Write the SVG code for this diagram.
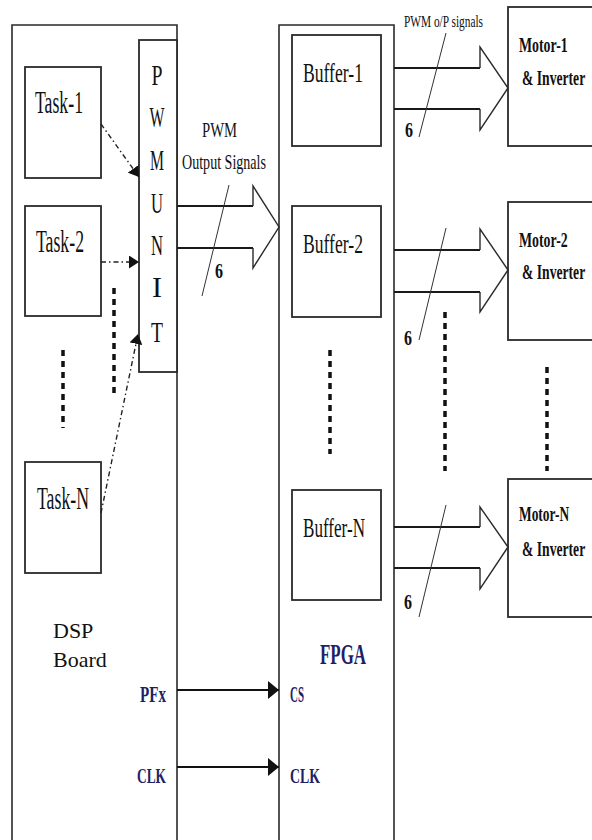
<svg xmlns="http://www.w3.org/2000/svg" width="592" height="840" viewBox="0 0 592 840">
<style>
.bg{fill:#ffffff}
.box{fill:#ffffff;stroke:#2a2a2a;stroke-width:1.8}
.frame{fill:none;stroke:#2a2a2a;stroke-width:1.6}
.barrow{fill:none;stroke:#2a2a2a;stroke-width:1.4}
.bline{fill:none;stroke:#1a1a1a;stroke-width:2}
.slash{fill:none;stroke:#333;stroke-width:1}
.dd{fill:none;stroke:#222;stroke-width:1.4;stroke-dasharray:5 3 1.5 3}
.dots{fill:none;stroke:#111;stroke-width:3.5;stroke-dasharray:6 5}
.sig{fill:none;stroke:#111;stroke-width:2}
.t{font-family:"Liberation Serif","DejaVu Serif",serif;fill:#111}
.b{font-weight:bold}
.navy{fill:#1f1f66;font-weight:bold}
</style>
<defs>
<marker id="ah" markerUnits="userSpaceOnUse" markerWidth="11" markerHeight="13" refX="10" refY="6.5" orient="auto">
<path d="M0,0 L10,6.5 L0,13 z" fill="#111"/>
</marker>
<marker id="ah2" markerUnits="userSpaceOnUse" markerWidth="12" markerHeight="18" refX="11" refY="9" orient="auto">
<path d="M0,0 L11,9 L0,18 z" fill="#111"/>
</marker>
</defs>
<rect class="bg" x="0" y="0" width="592" height="840"/>

<g id="dsp-board">
<path class="frame" d="M12,842 V25 H177 V842"/>
<text class="t" x="53" y="638" font-size="22">DSP</text>
<text class="t" x="53" y="667" font-size="22">Board</text>
<text class="t navy" x="140" y="702" font-size="24" textLength="26" lengthAdjust="spacingAndGlyphs">PFx</text>
<text class="t navy" x="137" y="783" font-size="22" textLength="29" lengthAdjust="spacingAndGlyphs">CLK</text>
</g>

<g id="fpga">
<path class="frame" d="M279,842 V25 H394 V842"/>
<text class="t navy" x="320" y="664" font-size="30" textLength="46" lengthAdjust="spacingAndGlyphs">FPGA</text>
<text class="t navy" x="290" y="702" font-size="24" textLength="14" lengthAdjust="spacingAndGlyphs">CS</text>
<text class="t navy" x="290" y="783" font-size="22" textLength="30" lengthAdjust="spacingAndGlyphs">CLK</text>
</g>

<g id="pwm-unit">
<rect class="box" x="139" y="40" width="38" height="332"/>
<g class="t" font-size="30" text-anchor="middle">
<text x="157" y="85" textLength="11" lengthAdjust="spacingAndGlyphs">P</text>
<text x="157" y="127" textLength="15" lengthAdjust="spacingAndGlyphs">W</text>
<text x="157" y="170" textLength="14" lengthAdjust="spacingAndGlyphs">M</text>
<text x="157" y="213" textLength="12" lengthAdjust="spacingAndGlyphs">U</text>
<text x="157" y="255" textLength="12" lengthAdjust="spacingAndGlyphs">N</text>
<text x="157" y="297">I</text>
<text x="157" y="342" textLength="12" lengthAdjust="spacingAndGlyphs">T</text>
</g>
</g>

<g id="task-1">
<rect class="box" x="25" y="67" width="76" height="111"/>
<text class="t" x="35" y="113" font-size="31" textLength="48" lengthAdjust="spacingAndGlyphs">Task-1</text>
</g>
<g id="task-2">
<rect class="box" x="25" y="206" width="76" height="110"/>
<text class="t" x="36" y="252" font-size="31" textLength="48" lengthAdjust="spacingAndGlyphs">Task-2</text>
</g>
<g id="task-n">
<rect class="box" x="25" y="462" width="76" height="111"/>
<text class="t" x="37" y="509" font-size="31" textLength="52" lengthAdjust="spacingAndGlyphs">Task-N</text>
</g>

<g id="buffer-1">
<rect class="box" x="292" y="35" width="89" height="111"/>
<text class="t" x="303" y="82" font-size="28" textLength="60" lengthAdjust="spacingAndGlyphs">Buffer-1</text>
</g>
<g id="buffer-2">
<rect class="box" x="292" y="206" width="89" height="111"/>
<text class="t" x="303" y="253" font-size="28" textLength="60" lengthAdjust="spacingAndGlyphs">Buffer-2</text>
</g>
<g id="buffer-n">
<rect class="box" x="292" y="490" width="89" height="110"/>
<text class="t" x="303" y="537" font-size="28" textLength="62" lengthAdjust="spacingAndGlyphs">Buffer-N</text>
</g>

<g id="motor-1">
<rect class="box" x="508" y="7" width="100" height="139"/>
<text class="t b" font-size="22" transform="translate(519,52) scale(0.63,1)">Motor-1</text>
<text class="t b" font-size="22" transform="translate(522,85) scale(0.62,1)">&amp; Inverter</text>
</g>
<g id="motor-2">
<rect class="box" x="508" y="202" width="100" height="138"/>
<text class="t b" font-size="22" transform="translate(519,247) scale(0.63,1)">Motor-2</text>
<text class="t b" font-size="22" transform="translate(522,279) scale(0.62,1)">&amp; Inverter</text>
</g>
<g id="motor-n">
<rect class="box" x="508" y="479" width="100" height="138"/>
<text class="t b" font-size="22" transform="translate(519,521) scale(0.61,1)">Motor-N</text>
<text class="t b" font-size="22" transform="translate(522,556) scale(0.62,1)">&amp; Inverter</text>
</g>

<g id="connectors">
<line class="dd" x1="101" y1="124" x2="139" y2="177" marker-end="url(#ah)"/>
<line class="dd" x1="101" y1="262" x2="139" y2="262" marker-end="url(#ah)"/>
<line class="dd" x1="101" y1="513" x2="138" y2="334" marker-end="url(#ah)"/>

<path class="bline" d="M177,206 H253 M177,248 H253"/>
<path class="barrow" d="M253,206 V186 L279,227 L253,268 V248"/>
<line class="slash" x1="229" y1="185" x2="202" y2="296"/>
<text class="t" x="202" y="137" font-size="22" textLength="35" lengthAdjust="spacingAndGlyphs">PWM</text>
<text class="t" x="182" y="169" font-size="22" textLength="84" lengthAdjust="spacingAndGlyphs">Output Signals</text>
<text class="t b" x="215" y="278" font-size="20" textLength="8" lengthAdjust="spacingAndGlyphs">6</text>

<path class="bline" d="M394,68 H480 M394,109 H480"/>
<path class="barrow" d="M480,68 V47 L508,88 L480,130 V109"/>
<line class="slash" x1="446" y1="33" x2="419" y2="137"/>
<text class="t" x="404" y="27" font-size="17" textLength="79" lengthAdjust="spacingAndGlyphs">PWM o/P signals</text>
<text class="t b" x="405" y="137" font-size="20" textLength="8" lengthAdjust="spacingAndGlyphs">6</text>

<path class="bline" d="M394,250 H480 M394,292 H480"/>
<path class="barrow" d="M480,250 V229 L508,270 L480,312 V292"/>
<line class="slash" x1="446" y1="228" x2="419" y2="340"/>
<text class="t b" x="404" y="345" font-size="20" textLength="8" lengthAdjust="spacingAndGlyphs">6</text>

<path class="bline" d="M394,527 H480 M394,568 H480"/>
<path class="barrow" d="M480,527 V507 L508,547 L480,589 V568"/>
<line class="slash" x1="446" y1="505" x2="419" y2="617"/>
<text class="t b" x="404" y="609" font-size="20" textLength="8" lengthAdjust="spacingAndGlyphs">6</text>

<line class="dots" x1="63" y1="350" x2="63" y2="428"/>
<line class="dots" x1="114" y1="288" x2="114" y2="393"/>
<line class="dots" x1="330" y1="350" x2="330" y2="454"/>
<line class="dots" x1="445" y1="312" x2="445" y2="471"/>
<line class="dots" x1="547" y1="367" x2="547" y2="471"/>

<line class="sig" x1="177" y1="690" x2="279" y2="690" marker-end="url(#ah2)"/>
<line class="sig" x1="177" y1="767" x2="279" y2="767" marker-end="url(#ah2)"/>
</g>
</svg>
